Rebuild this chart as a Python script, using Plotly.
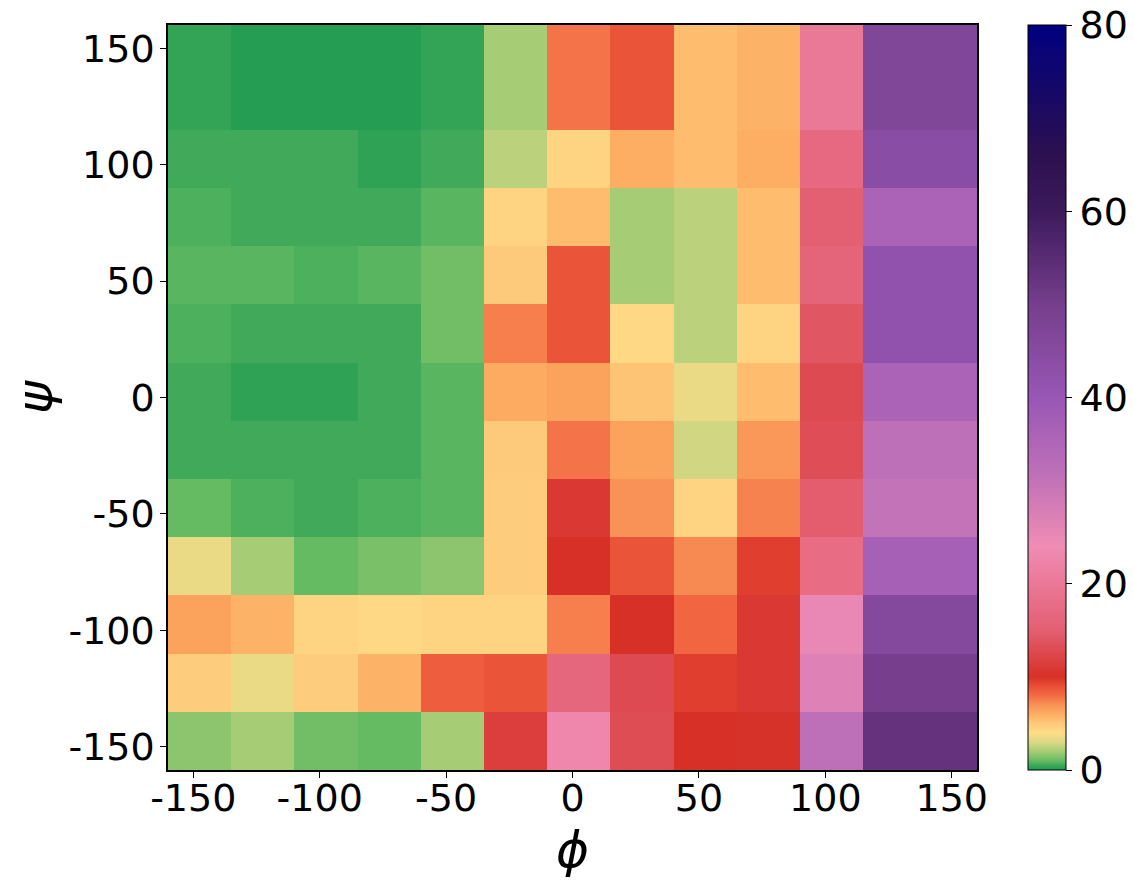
import plotly.graph_objects as go

# bin edges (degrees)
phi_edges = [-160, -135, -110, -85, -60, -35, -10, 15, 40, 65, 90, 115, 160]
psi_edges = [-160, -135, -110, -85, -60, -35, -10, 15, 40, 65, 90, 115, 160]

# values, rows from bottom (psi=-160) to top (psi=160)
row_m147 = [1.6, 2.0, 1.2, 1.0, 2.0, 11.5, 23.0, 13.0, 10.0, 10.2, 32.0, 53.0]
row_m122 = [4.8, 3.4, 4.8, 5.8, 8.5, 8.8, 16.5, 12.8, 9.5, 10.8, 27.0, 50.0]
row_m97 = [6.4, 5.8, 4.5, 4.2, 4.5, 4.5, 7.5, 10.0, 8.2, 10.8, 25.0, 46.0]
row_m72 = [3.4, 2.0, 1.0, 1.3, 1.6, 4.8, 10.0, 8.8, 7.2, 9.5, 17.5, 37.0]
row_m47 = [1.0, 0.7, 0.55, 0.7, 0.85, 4.8, 10.8, 7.0, 4.5, 7.4, 14.8, 31.0]
row_m22 = [0.55, 0.55, 0.55, 0.55, 0.85, 5.0, 7.8, 6.4, 2.8, 6.8, 13.2, 32.0]
row_p2 = [0.55, 0.3, 0.3, 0.55, 0.85, 6.1, 6.4, 5.2, 3.4, 5.5, 12.8, 36.0]
row_p27 = [0.7, 0.55, 0.55, 0.55, 1.2, 7.5, 8.8, 4.2, 2.4, 4.5, 14.0, 42.0]
row_p52 = [0.85, 0.85, 0.7, 0.85, 1.2, 5.0, 8.8, 2.0, 2.4, 5.5, 16.0, 42.0]
row_p77 = [0.7, 0.55, 0.55, 0.55, 0.85, 4.5, 5.5, 2.0, 2.4, 5.5, 15.0, 36.0]
row_p102 = [0.55, 0.55, 0.55, 0.3, 0.55, 2.4, 4.5, 6.0, 5.5, 6.0, 17.0, 44.0]
row_p137 = [0.35, 0.1, 0.1, 0.1, 0.35, 2.0, 7.8, 8.8, 5.5, 5.8, 20.0, 47.0]

z = [row_m147, row_m122, row_m97, row_m72, row_m47, row_m22,
     row_p2, row_p27, row_p52, row_p77, row_p102, row_p137]

tick_vals = [-150, -100, -50, 0, 50, 100, 150]
tick_text = ["-150", "-100", "-50", "0", "50", "100", "150"]
cbar_ticks = [0, 20, 40, 60, 80]
cbar_text = ["0", "20", "40", "60", "80"]

zmax = 80.0
stops = [
    (0.0, "#1f9a50"), (0.5, "#3ca859"), (1.0, "#65bb62"), (2.0, "#a6cc75"),
    (3.0, "#dcd885"), (4.0, "#fedc88"), (5.0, "#fdc97a"), (6.0, "#fdae62"),
    (7.0, "#f89256"), (8.0, "#f36b44"), (9.0, "#e84e36"), (10.0, "#d73027"),
    (15.0, "#e35f72"), (24.0, "#f08cb4"), (32.0, "#bd6fb8"), (40.0, "#9857b5"),
    (50.0, "#763e8c"), (60.0, "#3c1a5c"), (66.0, "#2c1050"), (80.0, "#000080"),
]
colorscale = [[v / zmax, c] for v, c in stops]

FONT = "DejaVu Sans"

fig = go.Figure(go.Heatmap(
    x=phi_edges, y=psi_edges, z=z,
    zmin=0, zmax=zmax, zsmooth=False,
    colorscale=colorscale,
    colorbar=dict(
        x=1.063, xanchor="left", y=0.5, yanchor="middle", xpad=0, ypad=0,
        len=1.0, lenmode="fraction", thickness=38, thicknessmode="pixels",
        outlinewidth=1, outlinecolor="black",
        tickvals=cbar_ticks, ticktext=cbar_text, ticks="outside", ticklen=6,
        tickcolor="black", ticklabeloverflow="allow",
        tickfont=dict(family=FONT, size=38, color="black"),
    ),
))

axis_common = dict(
    range=[-160, 160], tickvals=tick_vals, ticktext=tick_text,
    ticks="outside", ticklen=6,
    tickcolor="black", tickwidth=1, showline=True, linecolor="black",
    linewidth=1.5, mirror=True, showgrid=False, zeroline=False,
    tickfont=dict(family=FONT, size=38, color="black"),
)

fig.update_layout(
    width=1126, height=882,
    margin=dict(l=160, r=157, t=17, b=120, autoexpand=False),
    paper_bgcolor="white", plot_bgcolor="white",
    xaxis=dict(axis_common, ticklabelstandoff=-12),
    yaxis=dict(axis_common, ticklabelstandoff=-2),
    annotations=[
        dict(text="<i>ϕ</i>", x=0.5, y=-0.107, xref="paper", yref="paper",
             xanchor="center", yanchor="middle", showarrow=False,
             font=dict(family=FONT, size=50, color="black")),
        dict(text="<i>ψ</i>", x=-0.165, y=0.5, xref="paper", yref="paper",
             xanchor="center", yanchor="middle", showarrow=False, textangle=-90,
             font=dict(family=FONT, size=50, color="black")),
    ],
)

fig.write_html("out.html")
